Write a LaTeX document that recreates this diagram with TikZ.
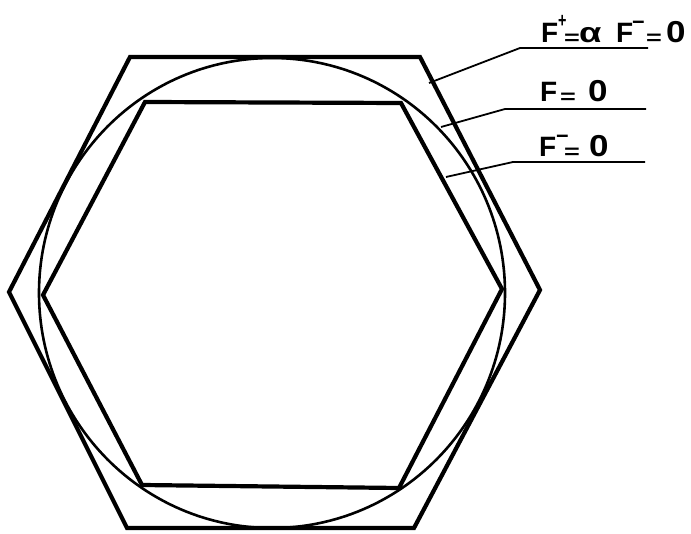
\documentclass[tikz,border=0pt]{standalone}
\usepackage{fontspec}
\usepackage{graphicx}
\setmainfont{Liberation Sans}
\newcommand{\supf}{\fontsize{18}{18}\selectfont}
\newcommand{\eqs}{\raisebox{-2pt}{\scalebox{1.35}[1]{\fontsize{20}{20}\selectfont =}}}
\newcommand{\zero}{\scalebox{1.25}[1.08]{0}}
\newcommand{\gl}[2]{\makebox[#1pt][l]{#2}}
\newcommand{\supplus}{\raisebox{15pt}{\supf\scalebox{0.8}[1.15]{+}}}
\newcommand{\supminus}{\raisebox{13pt}{\supf\scalebox{1.2}[1.2]{−}}}
\begin{document}
\begin{tikzpicture}[x=1pt,y=-1pt,
  hexline/.style={line width=4.2pt,line join=miter},
  circline/.style={line width=2.6pt},
  leader/.style={line width=1.8pt},
  lbl/.style={anchor=base west,inner sep=0pt,font=\fontsize{28}{28}\selectfont\bfseries}]
\useasboundingbox (0,0) rectangle (691,534);
% outer hexagon  F+ = alpha F- = 0
\coordinate (o1) at (130,57);
\coordinate (o2) at (420,57);
\coordinate (o3) at (540,290);
\coordinate (o4) at (414,528);
\coordinate (o5) at (127,528);
\coordinate (o6) at (9,292);
\draw[hexline] (o1)--(o2)--(o3)--(o4)--(o5)--(o6)--cycle;
% inner hexagon  F- = 0
\coordinate (i1) at (145,102);
\coordinate (i2) at (401,103);
\coordinate (i3) at (502,289);
\coordinate (i4) at (399,488);
\coordinate (i5) at (142,485);
\coordinate (i6) at (43,295);
\draw[hexline] (i1)--(i2)--(i3)--(i4)--(i5)--(i6)--cycle;
% circle F = 0
\coordinate (c) at (272,293);
\draw[circline] (c) ellipse [x radius=233, y radius=235];
% leader lines
\coordinate (a1) at (429,83);
\coordinate (b1) at (520,48);
\coordinate (e1) at (648,48);
\coordinate (a2) at (441,127);
\coordinate (b2) at (505,109);
\coordinate (e2) at (646,109);
\coordinate (a3) at (446,177);
\coordinate (b3) at (513,162);
\coordinate (e3) at (645,162);
\draw[leader] (a1)--(b1)--(e1);
\draw[leader] (a2)--(b2)--(e2);
\draw[leader] (a3)--(b3)--(e3);
\node[lbl] (t1) at (541,43) {\gl{23}{\rlap{F}\kern17pt\supplus}\gl{15}{\eqs}\gl{37}{\scalebox{1.3}[1]{α}}\gl{16}{F}\gl{14}{\supminus}\gl{20}{\eqs}\zero};
\node[lbl] (t2) at (540,102) {\gl{20}{F}\gl{28}{\eqs}\zero};
\node[lbl] (t3) at (539,157) {\gl{17}{F}\gl{8}{\supminus}\gl{25}{\eqs}\zero};
\end{tikzpicture}
\end{document}
